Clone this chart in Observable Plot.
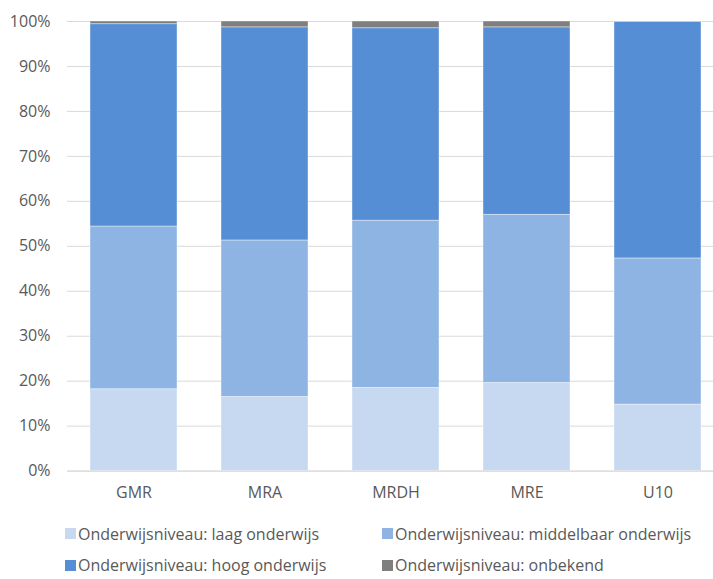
<!DOCTYPE html>
<html>
<head>
<meta charset="utf-8">
<script src="https://cdn.jsdelivr.net/npm/d3@7"></script>
<script src="https://cdn.jsdelivr.net/npm/@observablehq/plot@0.6"></script>
<style>
  html, body { margin: 0; padding: 0; background: #fff; overflow: hidden; }
  #wrap { position: relative; width: 713px; height: 579px; font-family: "Open Sans", sans-serif; color: #595959; }
  #legend { position: absolute; left: 0; top: 0; width: 713px; }
  .item { position: absolute; font-size: 16px; line-height: 22px; height: 22px; white-space: nowrap; display: flex; align-items: center; }
  .sw { display: inline-block; width: 11px; height: 11px; margin-right: 2px; }
</style>
</head>
<body>
<div id="wrap"><div id="chart"></div><div id="legend"></div></div>
<script>
const regions = ["GMR", "MRA", "MRDH", "MRE", "U10"];
const series = [
  "Onderwijsniveau: laag onderwijs",
  "Onderwijsniveau: middelbaar onderwijs",
  "Onderwijsniveau: hoog onderwijs",
  "Onderwijsniveau: onbekend"
];
const laag = [18.2, 16.5, 18.5, 19.6, 14.8];
const middelbaar = [36.2, 34.8, 37.2, 37.4, 32.5];
const hoog = [45.0, 47.4, 42.8, 41.7, 52.6];
const onbekend = [0.6, 1.3, 1.5, 1.3, 0.1];
const colors = ["#c6d9f1", "#8eb4e3", "#558ed5", "#7f7f7f"];
const yTicks = [0, 10, 20, 30, 40, 50, 60, 70, 80, 90, 100];

const cols = [laag, middelbaar, hoog, onbekend];
const data = [];
series.forEach((s, si) => regions.forEach((r, ri) => data.push({region: r, series: s, value: cols[si][ri]})));

const chart = Plot.plot({
  width: 713,
  height: 512,
  marginLeft: 67,
  marginRight: -10,
  marginTop: 21,
  marginBottom: 41.4,
  style: {fontFamily: "Open Sans, sans-serif", fontSize: "16px", color: "#595959", background: "#fff"},
  x: {domain: regions, paddingInner: 0.337, paddingOuter: 0.1685, label: null, tickSize: 0, tickPadding: 16},
  y: {domain: [0, 100], ticks: yTicks, tickFormat: d => d + "%", label: null, tickSize: 0, tickPadding: 17},
  color: {domain: series, range: colors},
  marks: [
    Plot.ruleY(yTicks, {stroke: "#d9d9d9", strokeWidth: 1}),
    Plot.barY(data, {x: "region", y: "value", fill: "series", order: series, stroke: "#ffffff", strokeOpacity: 0.5, strokeWidth: 0.8}),
    Plot.ruleY([0], {stroke: "#d9d9d9", strokeWidth: 1})
  ]
});
document.getElementById("chart").appendChild(chart);

const legend = document.getElementById("legend");
const pos = [[65, 522.5], [382, 522.5], [65, 554], [382, 554]];
series.forEach((s, i) => {
  const d = document.createElement("div");
  d.className = "item";
  d.style.left = pos[i][0] + "px";
  d.style.top = pos[i][1] + "px";
  d.innerHTML = `<span class="sw" style="background:${colors[i]}"></span><span>${s}</span>`;
  legend.appendChild(d);
});
</script>
</body>
</html>
